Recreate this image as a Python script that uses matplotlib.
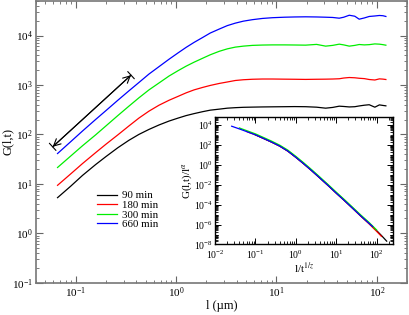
import numpy as np
import matplotlib
matplotlib.use("Agg")
import matplotlib.pyplot as plt
from matplotlib.ticker import LogLocator, NullFormatter

plt.rcParams['font.family'] = ['Liberation Serif', 'DejaVu Serif']
plt.rcParams['mathtext.fontset'] = 'stix'

# main panel data (l in um, G for each time)
l_um = [0.066, 0.089, 0.117, 0.158, 0.200, 0.263, 0.339, 0.427, 0.537, 0.676,
        0.851, 1.05, 1.26, 1.51, 1.84, 2.19, 2.69, 3.24, 3.89, 4.68,
        5.75, 7.24, 9.12, 12.0, 15.1, 19.5, 25.1, 30.9, 36.3, 42.2,
        46.8, 53.1, 60.3, 66.7, 75.0, 83.9, 95.5, 106, 115, 123]
g_90 = [5.25, 8.91, 14.8, 24.5, 35.5, 53.7, 75.9, 100, 126, 155,
        186, 214, 240, 263, 288, 309, 324, 339, 347, 353,
        356, 359, 361, 363, 365, 363, 355, 339, 351, 372,
        367, 359, 363, 376, 389, 398, 355, 395, 385, 378]
g_180 = [9.33, 15.8, 25.7, 42.7, 63.1, 97.7, 148, 214, 295, 389,
         490, 589, 692, 794, 891, 977, 1072, 1148, 1230, 1274,
         1303, 1318, 1318, 1309, 1303, 1294, 1303, 1309, 1318, 1334,
         1380, 1413, 1396, 1365, 1343, 1288, 1259, 1327, 1312, 1288]
g_300 = [21.4, 36.3, 58.9, 97.7, 148, 240, 372, 550, 794, 1096,
         1514, 1950, 2399, 2884, 3467, 4074, 4786, 5370, 5821, 6095,
         6310, 6412, 6457, 6457, 6427, 6383, 6607, 6095, 6310, 6683,
         6457, 6095, 6310, 6577, 6457, 6531, 6761, 6683, 6531, 6368]
g_660 = [41.0, 70.8, 117, 200, 302, 490, 759, 1122, 1660, 2344,
         3311, 4467, 5754, 7244, 9120, 11220, 13490, 15850, 17780, 19500,
         20890, 22130, 22910, 23440, 23710, 23880, 23710, 23440, 23170, 22390,
         23440, 25700, 24550, 21380, 22650, 24270, 24830, 25410, 25120, 24270]
labels = ['90 min', '180 min', '300 min', '660 min']
colors = ['black', 'red', '#00ee00', 'blue']

# inset: scaled curves G/l^alpha vs l/t^(1/z)
xs_90 = [0.1, 0.158, 0.251, 0.398, 0.631, 1, 1.585, 2.512, 3.98, 6.31, 10,
         15.85, 25.1, 39.8, 63.1, 100, 132, 178]
ys_90 = [1072, 468, 200, 79.4, 25.1, 5.89, 1.26, 0.251, 0.0468, 8.51e-3, 1.48e-3,
         2.69e-4, 4.68e-5, 7.94e-6, 1.48e-6, 2.51e-7, 7.94e-8, 2.14e-8]
xs_180 = [0.0631, 0.1, 0.158, 0.251, 0.398, 0.631, 1, 1.585, 2.512, 3.98, 6.31,
          10, 15.85, 25.1, 39.8, 63.1, 100, 132]
ys_180 = [2138, 1072, 468, 200, 79.4, 25.1, 5.89, 1.26, 0.251, 0.0468, 8.51e-3,
          1.48e-3, 2.69e-4, 4.68e-5, 7.6e-6, 1.35e-6, 2.1e-7, 6.5e-8]
xs_300 = [0.0398, 0.0631, 0.1, 0.158, 0.251, 0.398, 0.631, 1, 1.585, 2.512, 3.98,
          6.31, 10, 15.85, 25.1, 39.8, 63.1, 100]
ys_300 = [5330, 2670, 1340, 585, 250, 99, 31.4, 7.4, 1.58, 0.314, 0.0585,
          0.0106, 1.85e-3, 3.36e-4, 5.85e-5, 9.9e-6, 1.85e-6, 2.9e-7]
xs_660 = [0.0257, 0.0398, 0.0631, 0.1, 0.158, 0.251, 0.398, 0.631, 1, 1.585, 2.512,
          3.98, 6.31, 10, 15.85, 25.1, 39.8, 63.1, 80]
ys_660 = [7943, 4266, 2138, 1072, 468, 200, 79.4, 25.1, 5.89, 1.26, 0.251,
          0.0468, 8.51e-3, 1.48e-3, 2.69e-4, 4.68e-5, 7.94e-6, 1.48e-6, 6.3e-7]

fig = plt.figure(figsize=(4.09, 3.15), dpi=100)
ax = fig.add_axes([0.0873, 0.1025, 0.908, 0.8945])

for g, lab, c in zip([g_90, g_180, g_300, g_660], labels, colors):
    ax.plot(l_um, g, color=c, lw=0.9, label=lab)

# double arrow with end bars
ax.annotate('', xy=(0.059, 56), xytext=(0.356, 1577),
            arrowprops=dict(arrowstyle='<->, head_length=0.5, head_width=0.25',
                            color='black', lw=0.8, shrinkA=0, shrinkB=0, mutation_scale=10))
ax.annotate('', xy=(0.059, 56), xytext=(0.356, 1577),
            arrowprops=dict(arrowstyle='|-|, widthA=0.35, widthB=0.35',
                            color='black', lw=0.8, shrinkA=0, shrinkB=0, mutation_scale=10))

ax.set_xscale('log')
ax.set_yscale('log')
ax.set_xlim(0.04, 200)
ax.set_ylim(0.1, 5e4)
ax.set_xlabel('l (\u00b5m)', fontsize=9, labelpad=0)
ax.set_ylabel('G(l,t)', fontsize=9)
ax.yaxis.set_label_coords(-0.06, 0.5)
for axis in [ax.xaxis, ax.yaxis]:
    axis.set_minor_locator(LogLocator(base=10, subs=np.arange(2, 10), numticks=100))
    axis.set_minor_formatter(NullFormatter())
ax.tick_params(which='both', direction='in', top=True, right=True, labelsize=8,
               colors='#666666', labelcolor='black', pad=2)
ax.tick_params(which='major', length=5, width=0.8)
ax.tick_params(which='minor', length=2.5, width=0.6)
for s in ax.spines.values():
    s.set_color('#777777')
    s.set_linewidth(1.2)

leg = ax.legend(loc='upper left', bbox_to_anchor=(0.238, 0.394), bbox_transform=fig.transFigure,
                frameon=False, fontsize=7.8, handlelength=1.8, handletextpad=0.5,
                labelspacing=0.0, borderpad=0, borderaxespad=0)

# inset
axi = fig.add_axes([0.526, 0.224, 0.434, 0.403])
for xs, ys, c in zip([xs_90, xs_180, xs_300, xs_660], [ys_90, ys_180, ys_300, ys_660], colors):
    axi.plot(xs, ys, color=c, lw=0.9)
axi.set_xscale('log')
axi.set_yscale('log')
axi.set_xlim(0.01, 250)
axi.set_ylim(1e-8, 6e4)
axi.set_yticks([1e-8, 1e-6, 1e-4, 1e-2, 1e0, 1e2, 1e4])
axi.xaxis.set_minor_locator(LogLocator(base=10, subs=np.arange(2, 10), numticks=100))
axi.yaxis.set_minor_locator(LogLocator(base=10, subs=np.arange(1, 10), numticks=100))
axi.xaxis.set_minor_formatter(NullFormatter())
axi.yaxis.set_minor_formatter(NullFormatter())
axi.tick_params(which='both', direction='in', top=True, right=True, labelsize=7)
axi.tick_params(axis='x', pad=3)
axi.tick_params(axis='y', pad=1.5)
axi.tick_params(which='major', length=4, width=0.7)
axi.tick_params(which='minor', length=2.5, width=0.6)
axi.set_xlabel('l/t$^{1/z}$', fontsize=8, labelpad=0)
axi.set_ylabel('G(l,t)/l$^{\\alpha}$', fontsize=8, labelpad=0)
for s in axi.spines.values():
    s.set_linewidth(1.0)

fig.savefig('out.png', dpi=100)
